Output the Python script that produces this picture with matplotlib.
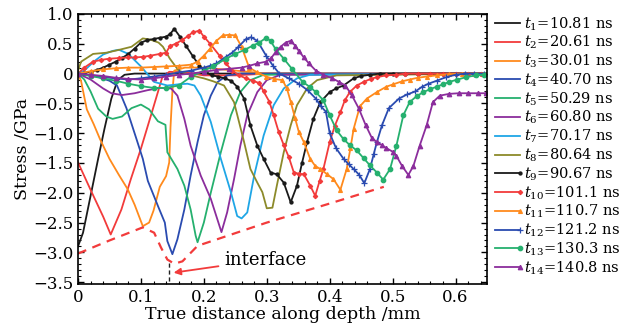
import matplotlib
matplotlib.use("Agg")
import matplotlib.pyplot as plt
from matplotlib.ticker import MultipleLocator
from matplotlib.legend_handler import HandlerLine2D

plt.rcParams['font.family'] = ['DejaVu Serif']
plt.rcParams['mathtext.fontset'] = 'dejavuserif'

# stress profiles at successive times (x in mm, stress in GPa)
labels = ["10.81", "20.61", "30.01", "40.70", "50.29", "60.80", "70.17",
          "80.64", "90.67", "101.1", "110.7", "121.2", "130.3", "140.8"]

t1_x = [0, 0.008, 0.021, 0.032, 0.042, 0.053, 0.063, 0.074, 0.09, 0.65]
t1_y = [-2.9, -2.67, -2.0, -1.43, -0.93, -0.42, -0.11, -0.02, 0, 0]

t2_x = [0, 0.02, 0.04, 0.052, 0.069, 0.084, 0.1, 0.116, 0.127, 0.134, 0.145, 0.17, 0.2, 0.25, 0.3, 0.65]
t2_y = [-1.49, -1.95, -2.4, -2.7, -2.28, -1.77, -1.26, -0.70, -0.31, -0.06, 0.03, 0.02, -0.03, -0.03, 0, 0]

t3_x = [0, 0.005, 0.014, 0.025, 0.035, 0.05, 0.065, 0.079, 0.09, 0.103, 0.113, 0.12, 0.13, 0.14,
        0.145, 0.147, 0.15, 0.153, 0.17, 0.2, 0.25, 0.3, 0.65]
t3_y = [0, -0.13, -0.6, -0.85, -1.1, -1.43, -1.7, -1.94, -2.2, -2.56, -2.5, -2.3, -1.9, -1.72,
        -1.49, -0.9, -0.3, 0.05, 0.1, 0.1, 0.05, 0, 0]

t4_x = [0, 0.03, 0.05, 0.062, 0.077, 0.093, 0.103, 0.111, 0.127, 0.138, 0.142, 0.15, 0.158, 0.169,
        0.179, 0.19, 0.2, 0.211, 0.222, 0.237, 0.26, 0.65]
t4_y = [0, -0.05, -0.12, -0.2, -0.58, -1.1, -1.43, -1.8, -2.22, -2.5, -2.81, -3.03, -2.78, -2.28,
        -1.71, -1.15, -0.7, -0.37, -0.14, -0.03, 0, 0]

t5_x = [0, 0.01, 0.02, 0.032, 0.045, 0.055, 0.07, 0.085, 0.1, 0.113, 0.127, 0.139, 0.142, 0.158,
        0.169, 0.179, 0.187, 0.19, 0.2, 0.211, 0.227, 0.243, 0.258, 0.274, 0.295, 0.65]
t5_y = [0, -0.1, -0.3, -0.59, -0.72, -0.76, -0.72, -0.58, -0.52, -0.6, -0.8, -0.86, -1.32, -1.6,
        -1.88, -2.28, -2.72, -2.83, -2.5, -2.0, -1.32, -0.7, -0.31, -0.11, -0.02, 0]

t6_x = [0, 0.02, 0.04, 0.053, 0.07, 0.09, 0.11, 0.13, 0.148, 0.158, 0.169, 0.179, 0.195, 0.211,
        0.228, 0.237, 0.248, 0.258, 0.269, 0.285, 0.3, 0.322, 0.65]
t6_y = [0, -0.1, -0.25, -0.33, -0.36, -0.33, -0.28, -0.24, -0.25, -0.37, -0.76, -1.21, -1.71, -2.1,
        -2.66, -2.33, -1.77, -1.21, -0.7, -0.31, -0.11, -0.02, 0]

t7_x = [0, 0.01, 0.025, 0.04, 0.055, 0.065, 0.08, 0.1, 0.121, 0.142, 0.16, 0.174, 0.185, 0.195,
        0.211, 0.227, 0.243, 0.253, 0.26, 0.269, 0.28, 0.295, 0.311, 0.327, 0.348, 0.369, 0.65]
t7_y = [0, 0.05, 0.2, 0.32, 0.38, 0.4, 0.33, 0.12, -0.14, -0.2, -0.18, -0.17, -0.2, -0.37,
        -0.81, -1.43, -1.99, -2.39, -2.43, -2.33, -1.71, -1.04, -0.53, -0.25, -0.08, -0.02, 0]

t8_x = [0, 0.005, 0.024, 0.045, 0.066, 0.085, 0.103, 0.115, 0.128, 0.135, 0.146, 0.16, 0.18, 0.2,
        0.215, 0.232, 0.248, 0.264, 0.274, 0.285, 0.293, 0.3, 0.309, 0.316, 0.327, 0.338, 0.348,
        0.364, 0.38, 0.411, 0.65]
t8_y = [0.05, 0.2, 0.33, 0.35, 0.4, 0.45, 0.59, 0.57, 0.52, 0.45, 0.25, 0.05, -0.03, -0.08,
        -0.13, -0.2, -0.48, -1.15, -1.6, -1.83, -1.99, -2.26, -2.25, -1.88, -1.32, -0.87, -0.53,
        -0.25, -0.11, -0.03, 0]

t9_x = [0, 0.01, 0.02, 0.03, 0.04, 0.05, 0.06, 0.07, 0.08, 0.09, 0.1, 0.11, 0.12, 0.13, 0.14,
        0.146, 0.153, 0.162, 0.172, 0.182, 0.193, 0.203, 0.213, 0.223, 0.233, 0.243, 0.253, 0.264,
        0.274, 0.285, 0.295, 0.306, 0.316, 0.327, 0.338, 0.348, 0.356, 0.364, 0.374, 0.385, 0.4,
        0.41, 0.422, 0.438, 0.45, 0.464, 0.48, 0.5, 0.52, 0.54, 0.56, 0.58, 0.6, 0.62, 0.64]
t9_y = [0, 0.01, 0.03, 0.06, 0.1, 0.15, 0.2, 0.26, 0.33, 0.42, 0.52, 0.56, 0.58, 0.6, 0.62,
        0.66, 0.75, 0.62, 0.46, 0.3, 0.13, 0.02, -0.03, -0.05, -0.08, -0.12, -0.22, -0.42,
        -0.87, -1.21, -1.43, -1.66, -1.69, -1.83, -2.16, -1.88, -1.5, -1.15, -0.76, -0.48, -0.31,
        -0.25, -0.2, -0.08, -0.04, -0.02, 0, 0, 0, 0, 0, 0, 0, 0, 0]

t10_x = [0, 0.01, 0.024, 0.037, 0.05, 0.065, 0.08, 0.09, 0.103, 0.115, 0.13, 0.14, 0.146, 0.155,
         0.165, 0.175, 0.182, 0.193, 0.2, 0.21, 0.225, 0.235, 0.245, 0.256, 0.267, 0.278, 0.288,
         0.295, 0.304, 0.311, 0.319, 0.327, 0.335, 0.343, 0.351, 0.359, 0.369, 0.377, 0.384, 0.39,
         0.4, 0.408, 0.417, 0.424, 0.432, 0.443, 0.454, 0.465, 0.475, 0.49, 0.506, 0.52, 0.54,
         0.56, 0.58, 0.6, 0.62, 0.64]
t10_y = [0, 0.1, 0.2, 0.23, 0.25, 0.26, 0.27, 0.27, 0.28, 0.3, 0.33, 0.35, 0.46, 0.5,
         0.56, 0.63, 0.69, 0.72, 0.62, 0.5, 0.3, 0.17, 0.05, -0.03, -0.08, -0.12, -0.16,
         -0.3, -0.47, -0.7, -0.98, -1.2, -1.4, -1.66, -1.68, -1.69, -1.88, -2.05, -1.8, -1.6,
         -1.15, -0.88, -0.65, -0.45, -0.31, -0.2, -0.14, -0.09, -0.06, -0.03, -0.02, 0, 0,
         0, 0, 0, 0, 0]

t11_x = [0, 0.02, 0.04, 0.06, 0.08, 0.1, 0.12, 0.14, 0.16, 0.18, 0.19, 0.2, 0.21, 0.22, 0.23,
         0.24, 0.25, 0.26, 0.272, 0.285, 0.299, 0.312, 0.325, 0.332, 0.338, 0.345, 0.351, 0.359,
         0.369, 0.377, 0.385, 0.396, 0.406, 0.417, 0.427, 0.433, 0.438, 0.448, 0.459, 0.475, 0.49,
         0.501, 0.515, 0.527, 0.54, 0.554, 0.57, 0.59, 0.61, 0.63, 0.645]
t11_y = [0, 0.04, 0.07, 0.09, 0.1, 0.1, 0.11, 0.12, 0.13, 0.15, 0.2, 0.3, 0.42, 0.55, 0.64,
         0.65, 0.64, 0.45, 0.1, 0.02, -0.05, -0.09, -0.11, -0.25, -0.47, -0.75, -0.98, -1.15,
         -1.43, -1.55, -1.6, -1.69, -1.77, -1.95, -1.6, -1.25, -0.93, -0.55, -0.42, -0.31, -0.22,
         -0.18, -0.13, -0.1, -0.07, -0.05, -0.03, -0.01, 0, 0, 0]

t12_x = [0, 0.02, 0.04, 0.06, 0.08, 0.1, 0.12, 0.14, 0.16, 0.18, 0.2, 0.21, 0.22, 0.235, 0.245,
         0.255, 0.267, 0.275, 0.285, 0.299, 0.31, 0.32, 0.335, 0.351, 0.365, 0.378, 0.386, 0.394,
         0.4, 0.41, 0.422, 0.43, 0.438, 0.447, 0.455, 0.464, 0.47, 0.475, 0.483, 0.494, 0.51,
         0.523, 0.536, 0.547, 0.557, 0.57, 0.585, 0.6, 0.615, 0.63, 0.645]
t12_y = [0, -0.03, -0.06, -0.08, -0.1, -0.08, -0.05, -0.02, 0.02, 0.05, 0.1, 0.13, 0.17, 0.28, 0.35,
         0.45, 0.58, 0.61, 0.55, 0.3, 0.13, 0, -0.08, -0.17, -0.28, -0.42, -0.55, -0.64,
         -1.0, -1.25, -1.43, -1.52, -1.6, -1.7, -1.84, -1.6, -1.35, -1.15, -0.87, -0.58, -0.42,
         -0.35, -0.3, -0.22, -0.17, -0.12, -0.06, -0.02, 0, 0, 0]

t13_x = [0, 0.02, 0.04, 0.06, 0.08, 0.1, 0.12, 0.14, 0.16, 0.18, 0.2, 0.215, 0.235, 0.25, 0.265,
         0.278, 0.288, 0.299, 0.306, 0.314, 0.327, 0.34, 0.357, 0.368, 0.378, 0.39, 0.4, 0.411,
         0.422, 0.432, 0.443, 0.454, 0.464, 0.475, 0.485, 0.496, 0.506, 0.517, 0.527, 0.538, 0.549,
         0.56, 0.57, 0.58, 0.59, 0.603, 0.617, 0.632, 0.645]
t13_y = [0, -0.04, -0.08, -0.12, -0.17, -0.21, -0.24, -0.24, -0.2, -0.05, 0.05, 0.12, 0.25, 0.33, 0.4,
         0.47, 0.52, 0.6, 0.55, 0.41, 0.25, 0.08, -0.14, -0.22, -0.31, -0.45, -0.7, -0.95,
         -1.1, -1.2, -1.29, -1.42, -1.54, -1.66, -1.78, -1.6, -1.21, -0.7, -0.48, -0.38, -0.31,
         -0.26, -0.22, -0.18, -0.14, -0.1, -0.06, -0.03, -0.02]

t14_x = [0, 0.02, 0.04, 0.06, 0.08, 0.1, 0.12, 0.14, 0.16, 0.18, 0.2, 0.22, 0.24, 0.26, 0.272,
         0.285, 0.299, 0.307, 0.314, 0.322, 0.33, 0.338, 0.345, 0.351, 0.359, 0.367, 0.378, 0.39,
         0.404, 0.415, 0.425, 0.435, 0.446, 0.457, 0.467, 0.475, 0.483, 0.49, 0.5, 0.506, 0.515,
         0.525, 0.533, 0.543, 0.554, 0.564, 0.575, 0.59, 0.605, 0.62, 0.635, 0.648]
t14_y = [0, -0.02, -0.04, -0.07, -0.09, -0.1, -0.08, -0.05, -0.02, 0, 0.03, 0.06, 0.08, 0.1, 0.13,
         0.17, 0.2, 0.26, 0.36, 0.45, 0.52, 0.55, 0.47, 0.38, 0.27, 0.17, 0.05, -0.02,
         -0.08, -0.14, -0.2, -0.36, -0.58, -0.86, -1.08, -1.15, -1.2, -1.25, -1.31, -1.38, -1.55,
         -1.7, -1.55, -1.21, -0.87, -0.48, -0.37, -0.34, -0.33, -0.33, -0.33, -0.33]

# envelope of peak compressive stress
env_x = [0, 0.05, 0.103, 0.121, 0.132, 0.142, 0.153, 0.166, 0.177, 0.19, 0.3, 0.4, 0.486]
env_y = [-3.02, -2.8, -2.58, -2.67, -2.92, -3.12, -3.19, -3.15, -3.03, -2.89, -2.5, -2.18, -1.9]

interface_x = 0.144

xs = [t1_x, t2_x, t3_x, t4_x, t5_x, t6_x, t7_x, t8_x, t9_x, t10_x, t11_x, t12_x, t13_x, t14_x]
ys = [t1_y, t2_y, t3_y, t4_y, t5_y, t6_y, t7_y, t8_y, t9_y, t10_y, t11_y, t12_y, t13_y, t14_y]

colors = ['#1a1a1a', '#f23b3b', '#ff8a1c', '#2a4bb0', '#25b06e', '#8b2d9c', '#1fa6e6', '#8c8a2a',
          '#1a1a1a', '#f23b3b', '#ff8a1c', '#2a4bb0', '#25b06e', '#8b2d9c']
markers = [None] * 8 + ['o', 'D', '^', '+', 'o', '^']
msizes = [0] * 8 + [2.2, 2.2, 2.8, 4, 3.2, 3.2]


class EndMarker(HandlerLine2D):
    # legend handle with the single marker at the right end of the line
    def create_artists(self, *args, **kwargs):
        arts = super().create_artists(*args, **kwargs)
        arts[0].set_markevery([2])
        return arts


fig = plt.figure(figsize=(6.31, 3.36), dpi=100)
ax = fig.add_axes([0.1236, 0.1548, 0.6482, 0.8036])

for i in range(14):
    ax.plot(xs[i], ys[i], color=colors[i], lw=1.3, marker=markers[i], ms=msizes[i],
            mew=0.9, label=r"$t_{%d}$=%s ns" % (i + 1, labels[i]))

ax.plot(env_x, env_y, color='#f23b3b', lw=1.6, ls=(0, (4, 3)))
ax.plot([interface_x, interface_x], [-3.17, -3.55], color='#222222', lw=1.0, ls=(0, (3, 2)))
ax.annotate('interface', xy=(0.152, -3.34), xytext=(0.232, -3.12), fontsize=13,
            va='center', ha='left',
            arrowprops=dict(arrowstyle='-|>', color='#f23b3b', lw=1.3, shrinkA=2, shrinkB=0,
                            mutation_scale=10))

ax.set_xlim(0, 0.65)
ax.set_ylim(-3.53, 1.0)
ax.xaxis.set_major_locator(MultipleLocator(0.1))
ax.xaxis.set_minor_locator(MultipleLocator(0.02))
ax.yaxis.set_major_locator(MultipleLocator(0.5))
ax.yaxis.set_minor_locator(MultipleLocator(0.1))
ax.tick_params(which='both', direction='in', top=True, right=True, labelsize=12)
ax.tick_params(which='major', length=4, width=1)
ax.tick_params(which='minor', length=2, width=0.8)
ax.set_xticks([0, 0.1, 0.2, 0.3, 0.4, 0.5, 0.6])
ax.set_xticklabels(['0', '0.1', '0.2', '0.3', '0.4', '0.5', '0.6'])
ax.set_yticks([1.0, 0.5, 0, -0.5, -1.0, -1.5, -2.0, -2.5, -3.0, -3.5])
ax.set_yticklabels(['1.0', '0.5', '0', '\u22120.5', '\u22121.0', '\u22121.5', '\u22122.0',
                    '\u22122.5', '\u22123.0', '\u22123.5'])
for s in ax.spines.values():
    s.set_linewidth(1.2)

ax.set_xlabel('True distance along depth /mm', fontsize=12.5, labelpad=0)
ax.set_ylabel('Stress /GPa', fontsize=12.5, labelpad=1)

handles, labs = ax.get_legend_handles_labels()
fig.legend(handles, labs, loc='upper left', bbox_to_anchor=(0.784, 0.955), frameon=False,
           fontsize=10.5, handlelength=1.75, handletextpad=0.25, labelspacing=0.095,
           borderaxespad=0, borderpad=0, handler_map={h: EndMarker() for h in handles[8:]})

fig.savefig('out.png', dpi=100)
